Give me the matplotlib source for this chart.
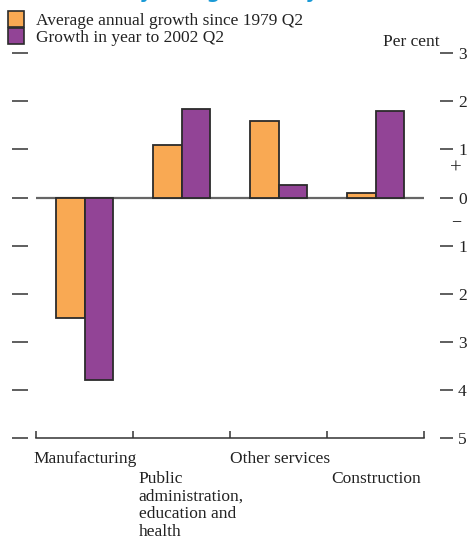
import matplotlib
matplotlib.use("Agg")
import matplotlib.pyplot as plt
from matplotlib.patches import Rectangle
from matplotlib.transforms import blended_transform_factory
import numpy as np

# Data
sectors = ["Manufacturing", "Public\nadministration,\neducation and\nhealth",
           "Other services", "Construction"]
avg_growth_since_1979 = [-2.5, 1.1, 1.6, 0.1]
growth_year_to_2002 = [-3.8, 1.85, 0.26, 1.8]
series_names = ["Average annual growth since 1979 Q2", "Growth in year to 2002 Q2"]
y_ticks = [3, 2, 1, 0, -1, -2, -3, -4, -5]
y_tick_labels = [str(abs(v)) for v in y_ticks]
title_text = "Productivity and growth by sector"

ORANGE = "#F9A953"
PURPLE = "#924496"
EDGE = "#2b2b2b"
TEXT = "#222222"
TICK = "#333333"
FONT = ["Liberation Serif", "DejaVu Serif"]
FS = 12.5
PX = 72 / 100  # points per pixel at 100 dpi

plt.rcParams["font.family"] = FONT
fig = plt.figure(figsize=(4.72, 5.39), dpi=100)
W, H = 472, 539
ax = fig.add_axes([36 / W, 1 - 438 / H, 388 / W, (438 - 53.3) / H])

x = np.arange(len(sectors))
bw = 0.29
ax.bar(x - bw / 2, avg_growth_since_1979, bw, color=ORANGE, edgecolor=EDGE,
       linewidth=1.3, zorder=3)
ax.bar(x + bw / 2, growth_year_to_2002, bw, color=PURPLE, edgecolor=EDGE,
       linewidth=1.3, zorder=3)
ax.axhline(0, color="#666666", linewidth=1.6, zorder=2)

ax.set_xlim(-0.5, len(sectors) - 0.5)
ax.set_ylim(-5, 3)

# Spines: only the bottom baseline is drawn
for side in ("top", "left", "right"):
    ax.spines[side].set_visible(False)
ax.spines["bottom"].set_color(TICK)
ax.spines["bottom"].set_linewidth(1.1)

# Category boundary ticks pointing up from the baseline
ax.set_xticks(np.arange(-0.5, len(sectors), 1.0))
ax.set_xticklabels([])
ax.tick_params(axis="x", direction="in", length=5, width=1.1, color=TICK)

# Left y ticks: unlabelled dashes set off from the plot area
ax.set_yticks(y_ticks)
ax.set_yticklabels([])
ax.spines["left"].set_position(("outward", 8 * PX))
ax.tick_params(axis="y", direction="out", length=16 * PX, width=1.1, color=TICK)

# Right y ticks with absolute-value labels
axr = ax.twinx()
axr.set_ylim(ax.get_ylim())
axr.set_yticks(y_ticks)
axr.set_yticklabels(y_tick_labels)
for side in ("top", "left", "right", "bottom"):
    axr.spines[side].set_visible(False)
axr.spines["right"].set_position(("outward", 16 * PX))
axr.tick_params(axis="y", direction="out", length=13 * PX, width=1.1,
                color=TICK, pad=5 * PX, labelsize=FS, labelcolor=TEXT)

# Sign markers next to the zero line
bt = blended_transform_factory(ax.transAxes, ax.transData)
ax.text(1.082, 0.6, "+", transform=bt, ha="center", va="center",
        fontsize=15, color=TEXT)
ax.text(1.082, -0.5, "\u2212", transform=bt, ha="center", va="center",
        fontsize=13, color=TEXT)
ax.text(1.04, 1.029, "Per cent", transform=ax.transAxes, ha="right",
        va="center", fontsize=FS, color=TEXT)

# Category labels under each boundary, staggered in two rows
row_y = [-5.28, -5.68, -5.28, -5.68]
dx = [-0.03, 0.06, 0.0, 0.04]
for i, name in enumerate(sectors):
    ax.text(i - 0.5 + dx[i], row_y[i], name, ha="left", va="top",
            fontsize=FS, color=TEXT, linespacing=1.15, clip_on=False)

# Legend
for k, (name, col) in enumerate(zip(series_names, [ORANGE, PURPLE])):
    y0 = 11 + k * 17
    fig.patches.append(Rectangle((8 / W, 1 - (y0 + 16) / H), 16 / W, 16 / H,
                                 transform=fig.transFigure, facecolor=col,
                                 edgecolor=EDGE, linewidth=1.2))
    fig.text(36 / W, 1 - (y0 + 10) / H, name, ha="left", va="center",
             fontsize=FS, color=TEXT)

# Title, running off the top edge
fig.text(18 / W, 1 + 2 / H, title_text, ha="left", va="baseline",
         fontsize=14, fontweight="bold", color="#1a9ad6",
         family=["DejaVu Sans"])

fig.savefig("out.png", dpi=100)
